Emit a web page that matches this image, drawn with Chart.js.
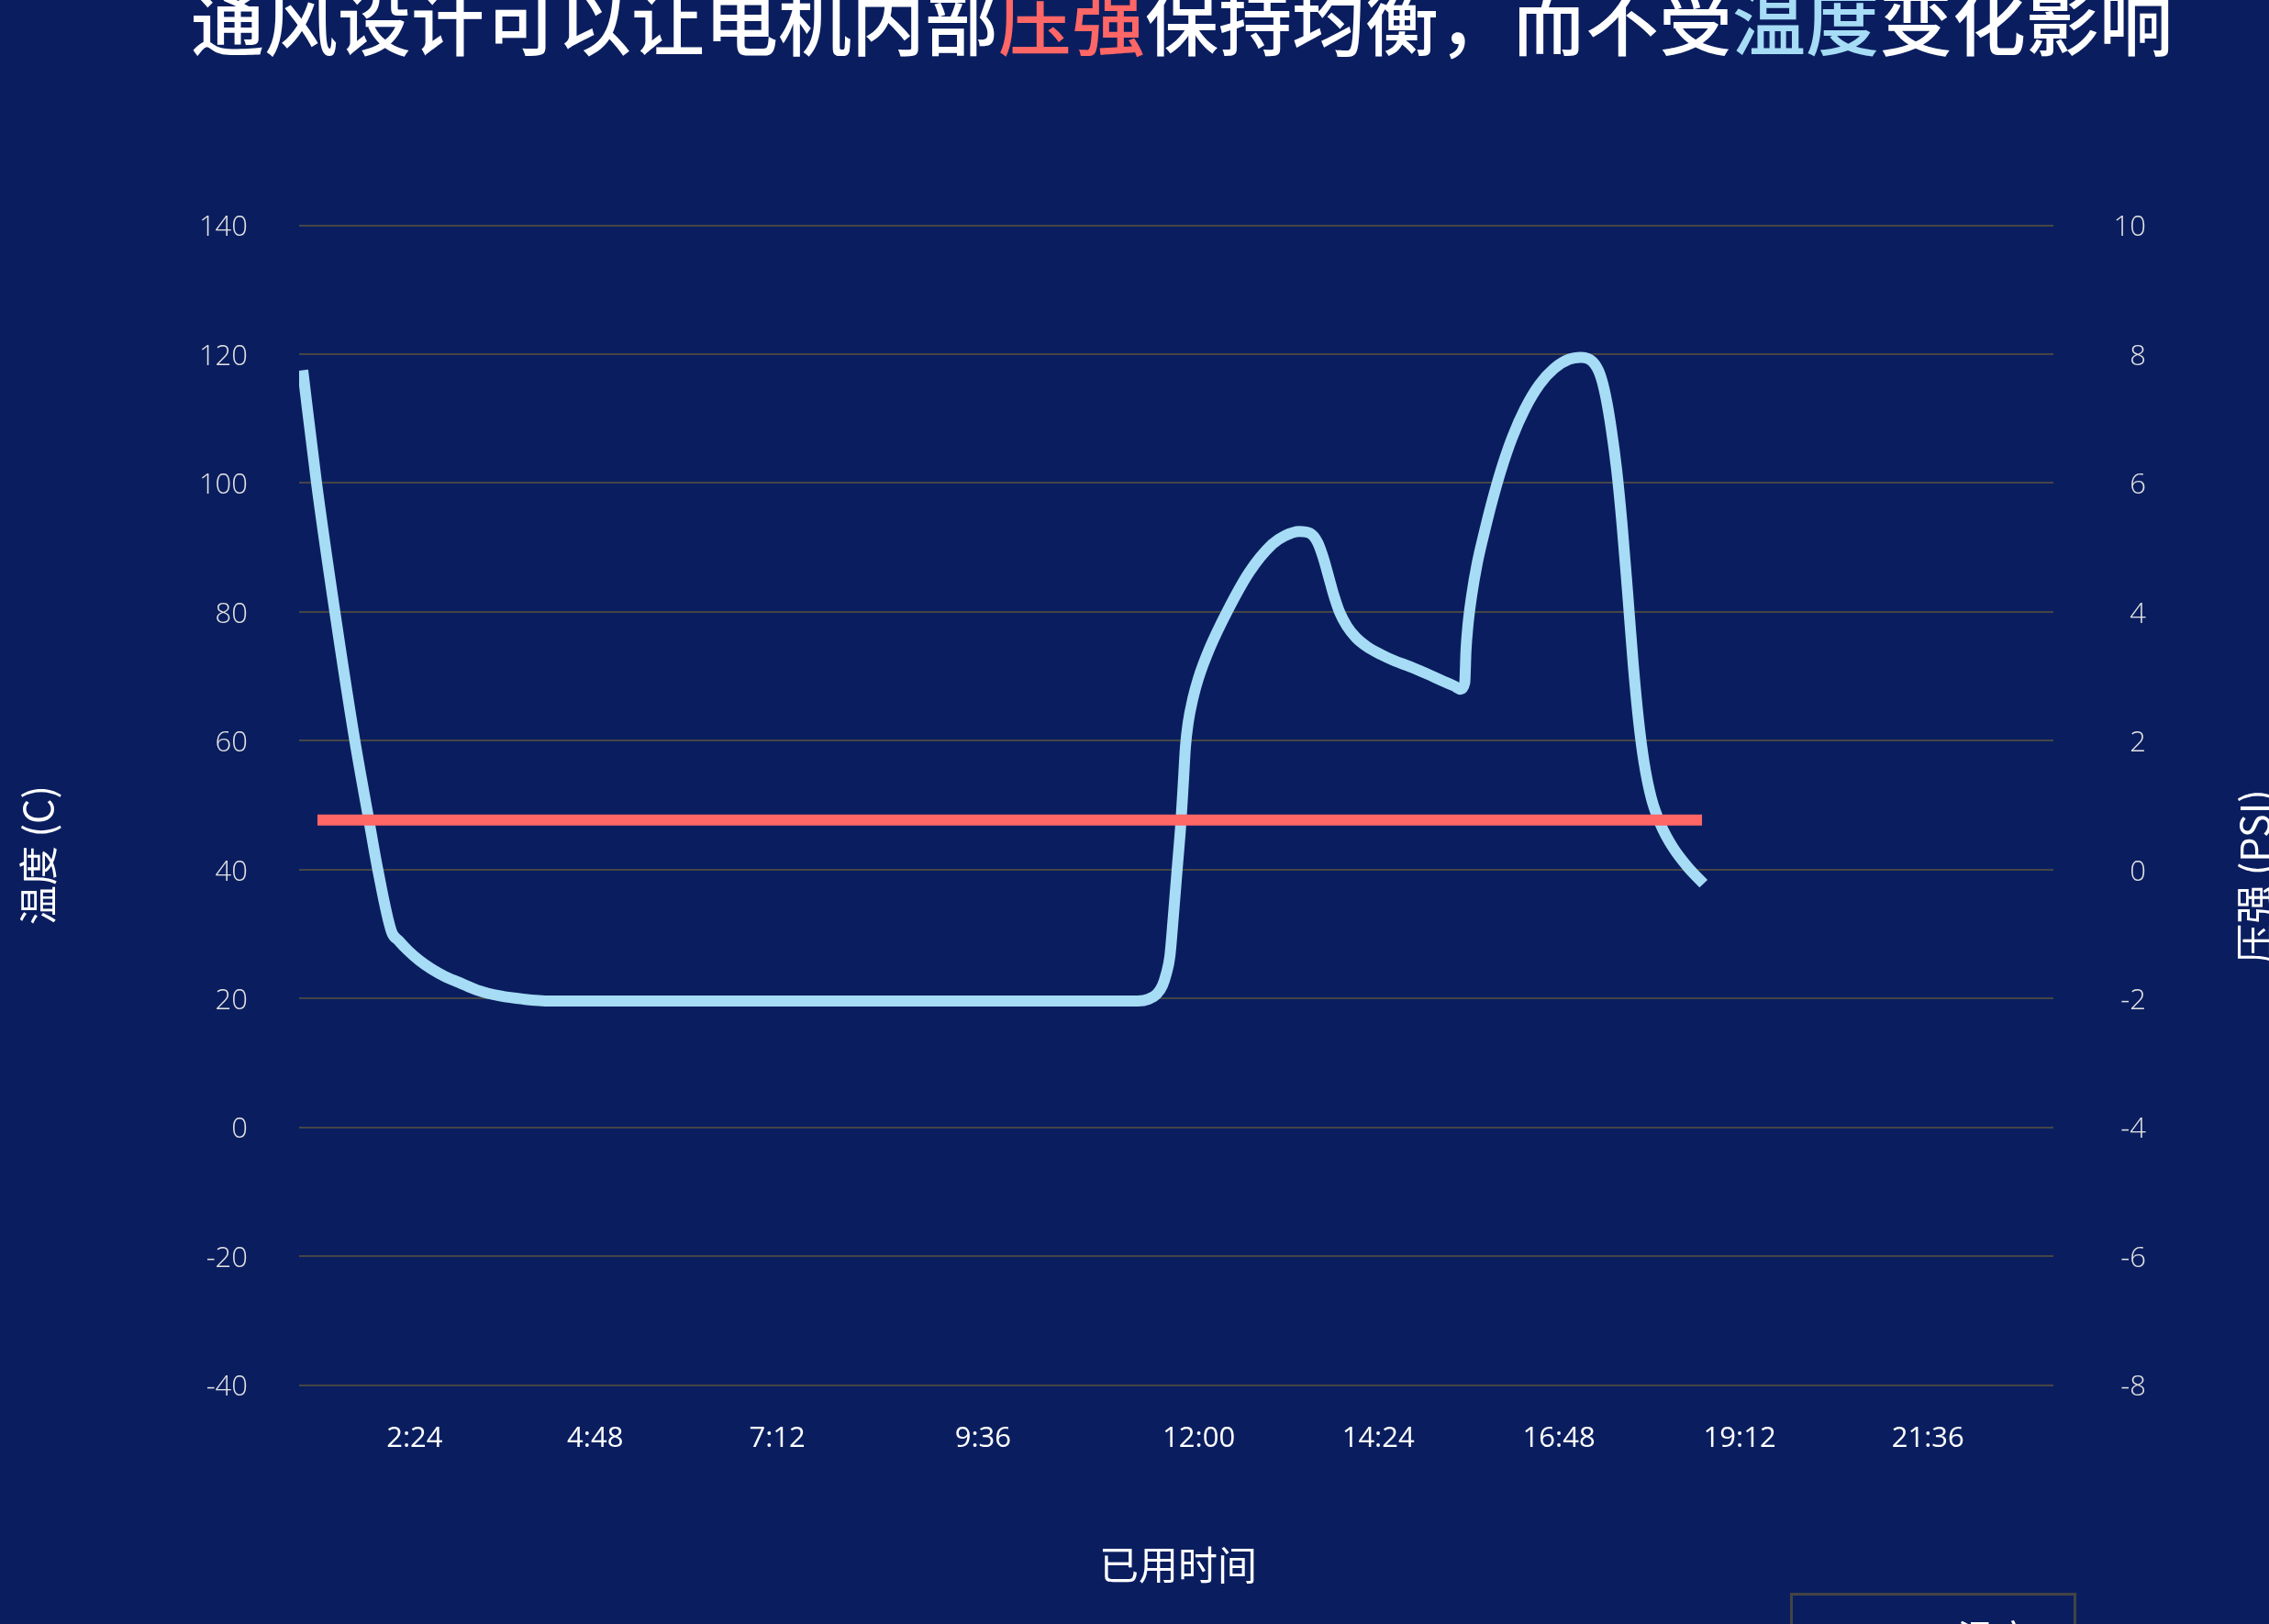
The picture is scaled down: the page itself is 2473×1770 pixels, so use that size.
<!DOCTYPE html>
<html lang="zh">
<head>
<meta charset="utf-8">
<title>通风设计与电机内部压强</title>
<script src="https://cdn.jsdelivr.net/npm/chart.js@4.4.1/dist/chart.umd.min.js"></script>
<style>
  html, body { margin: 0; padding: 0; background: #0a1e5f; overflow: hidden; }
  canvas { display: block; }
</style>
</head>
<body>
<canvas id="chart" width="2473" height="1770"></canvas>
<script>
// Elapsed time (minutes) and motor temperature (°C)
const tempMinutes = [
  54.9, 65.9, 80.5, 96.4, 107.6, 114.7, 125.6, 131.7, 139.0, 147.8,
  157.3, 168.3, 179.2, 193.8, 212.1, 230.4, 252.3, 281.6, 471.7, 720.3,
  729.1, 735.6, 740.0, 743.0, 745.9, 748.8, 751.7, 754.6, 756.8, 758.3,
  760.5, 764.2, 768.5, 777.5, 791.4, 809.3, 827.5, 837.3, 849.0,
  857.7, 863.6, 868.0, 872.4, 876.7, 881.1, 887.0, 894.3, 903.1, 914.0,
  925.0, 937.4, 950.6, 963.0, 972.5, 977.7,
  980.9, 981.9, 983.5, 986.4, 990.8, 996.7, 1003.2, 1009.8, 1018.6, 1028.8,
  1040.5, 1052.2, 1063.9, 1073.7,
  1082.9, 1088.8, 1093.2, 1097.6, 1102.0, 1106.3, 1110.7, 1115.1, 1119.5, 1123.9,
  1129.7, 1137.0, 1146.6, 1159.0, 1171.2
];
const tempValues = [
  117.5, 100, 80, 60, 47.7, 40, 30.4, 28.9, 27.4, 25.9,
  24.6, 23.4, 22.5, 21.3, 20.4, 19.9, 19.6, 19.6, 19.6, 19.6,
  19.9, 20.7, 22.0, 23.8, 26.5, 33, 40, 47, 54, 59,
  62.8, 66.5, 69.6, 74.3, 80, 86.2, 90.5, 91.8, 92.5,
  92.2, 90.8, 88.5, 85.5, 82.5, 80.0, 77.8, 76.0, 74.6, 73.4,
  72.4, 71.5, 70.4, 69.3, 68.5, 68.0,
  69.0, 74.0, 78.0, 82.5, 87.5, 92.5, 97.5, 102.0, 107.0, 111.5,
  115.3, 117.8, 119.2, 119.5,
  118.8, 116.8, 113.5, 108.5, 102.0, 93.5, 83.0, 72.0, 63.0, 56.5,
  51.0, 47.0, 43.5, 40.3, 37.8
];

// Internal pressure (PSI)
const pressureMinutes = [66.6, 1170.0];
const pressureValues = [0.77, 0.77];

// Time axis ticks
const xTickMinutes = [144, 288, 433, 597, 769, 912, 1056, 1200, 1350];
const xTickLabels = ['2:24', '4:48', '7:12', '9:36', '12:00', '14:24', '16:48', '19:12', '21:36'];

const BG = '#0a1e5f';
const TEMP_COLOR = '#a6dcf5';
const PRESSURE_COLOR = '#ff6666';
const GRID_COLOR = '#454545';
const LATIN = "'Open Sans', 'Noto Sans', 'Noto Sans CJK SC', sans-serif";
const CJK = "'Noto Sans CJK SC', 'Noto Sans', sans-serif";

const titleParts = [
  { text: '通风设计可以让电机内部', color: '#ffffff' },
  { text: '压强', color: PRESSURE_COLOR },
  { text: '保持均衡，而不受', color: '#ffffff' },
  { text: '温度', color: TEMP_COLOR },
  { text: '变化影响', color: '#ffffff' }
];

const toPoints = (xs, ys) => xs.map((x, i) => ({ x, y: ys[i] }));

// Background, headline, axis titles and legend box
const decorations = {
  id: 'decorations',
  beforeDraw(chart) {
    const ctx = chart.ctx;
    ctx.save();
    ctx.fillStyle = BG;
    ctx.fillRect(0, 0, chart.width, chart.height);
    ctx.restore();
  },
  afterDraw(chart) {
    const ctx = chart.ctx;
    const area = chart.chartArea;
    ctx.save();

    // headline with highlighted words
    ctx.font = `500 80px ${CJK}`;
    ctx.textBaseline = 'alphabetic';
    ctx.textAlign = 'left';
    const total = titleParts.reduce((w, p) => w + ctx.measureText(p.text).width, 0);
    let x = (area.left + area.right) / 2 + 6 - total / 2;
    for (const p of titleParts) {
      ctx.fillStyle = p.color;
      ctx.fillText(p.text, x, 54);
      x += ctx.measureText(p.text).width;
    }

    // axis titles
    ctx.fillStyle = '#ffffff';
    ctx.font = `400 43px ${CJK}`;
    ctx.textAlign = 'center';
    ctx.textBaseline = 'middle';
    ctx.fillText('已用时间', (area.left + area.right) / 2 + 2, 1706);

    ctx.save();
    ctx.translate(42, 932);
    ctx.rotate(-Math.PI / 2);
    ctx.fillText('温度 (C)', 0, 0);
    ctx.restore();

    ctx.save();
    ctx.translate(2458, 955);
    ctx.rotate(-Math.PI / 2);
    ctx.fillText('压强 (PSI)', 0, 0);
    ctx.restore();

    // legend
    ctx.strokeStyle = '#444444';
    ctx.lineWidth = 3;
    ctx.strokeRect(1952.5, 1737.5, 309, 160);
    ctx.textAlign = 'left';
    ctx.textBaseline = 'alphabetic';
    ctx.font = `400 40px ${CJK}`;
    ctx.fillStyle = '#ffffff';
    ctx.fillText('温度', 2133, 1800);
    ctx.fillText('压强', 2133, 1856);
    ctx.lineWidth = 12;
    ctx.strokeStyle = TEMP_COLOR;
    ctx.beginPath(); ctx.moveTo(1990, 1786); ctx.lineTo(2110, 1786); ctx.stroke();
    ctx.strokeStyle = PRESSURE_COLOR;
    ctx.beginPath(); ctx.moveTo(1990, 1842); ctx.lineTo(2110, 1842); ctx.stroke();

    ctx.restore();
  }
};

new Chart(document.getElementById('chart'), {
  type: 'line',
  data: {
    datasets: [
      {
        label: '温度',
        data: toPoints(tempMinutes, tempValues),
        yAxisID: 'y',
        borderColor: TEMP_COLOR,
        borderWidth: 12,
        borderCapStyle: 'butt',
        borderJoinStyle: 'round',
        cubicInterpolationMode: 'monotone',
        pointRadius: 0,
        fill: false,
        order: 1
      },
      {
        label: '压强',
        data: toPoints(pressureMinutes, pressureValues),
        yAxisID: 'y1',
        borderColor: PRESSURE_COLOR,
        borderWidth: 12,
        borderCapStyle: 'butt',
        pointRadius: 0,
        fill: false,
        order: 0
      }
    ]
  },
  options: {
    responsive: false,
    animation: false,
    devicePixelRatio: 1,
    layout: { padding: { top: 245.6, right: 134, bottom: 160.5, left: 0 } },
    plugins: {
      legend: { display: false },
      title: { display: false },
      tooltip: { enabled: false }
    },
    scales: {
      x: {
        type: 'linear',
        min: 52,
        max: 1450,
        grid: { display: false, drawTicks: false },
        border: { display: false },
        afterBuildTicks: (scale) => { scale.ticks = xTickMinutes.map(v => ({ value: v })); },
        afterFit: (scale) => { scale.height = 100; },
        ticks: {
          autoSkip: false,
          maxRotation: 0,
          minRotation: 0,
          padding: 40,
          color: '#ffffff',
          font: { family: LATIN, size: 31 },
          callback: (value, index) => xTickLabels[index]
        }
      },
      y: {
        position: 'left',
        min: -40,
        max: 140,
        grid: { color: GRID_COLOR, lineWidth: 2, drawTicks: false },
        border: { display: false },
        afterFit: (scale) => { scale.width = 326; },
        ticks: {
          stepSize: 20,
          padding: 56,
          labelOffset: 3,
          color: '#e4e4e4',
          font: { family: LATIN, size: 31, weight: '300' }
        }
      },
      y1: {
        position: 'right',
        min: -8,
        max: 10,
        grid: { display: false, drawTicks: false },
        border: { display: false },
        afterFit: (scale) => { scale.width = 101; },
        ticks: {
          stepSize: 2,
          crossAlign: 'far',
          labelOffset: 3,
          color: '#e4e4e4',
          font: { family: LATIN, size: 31, weight: '300' }
        }
      }
    }
  },
  plugins: [decorations]
});
</script>
</body>
</html>
